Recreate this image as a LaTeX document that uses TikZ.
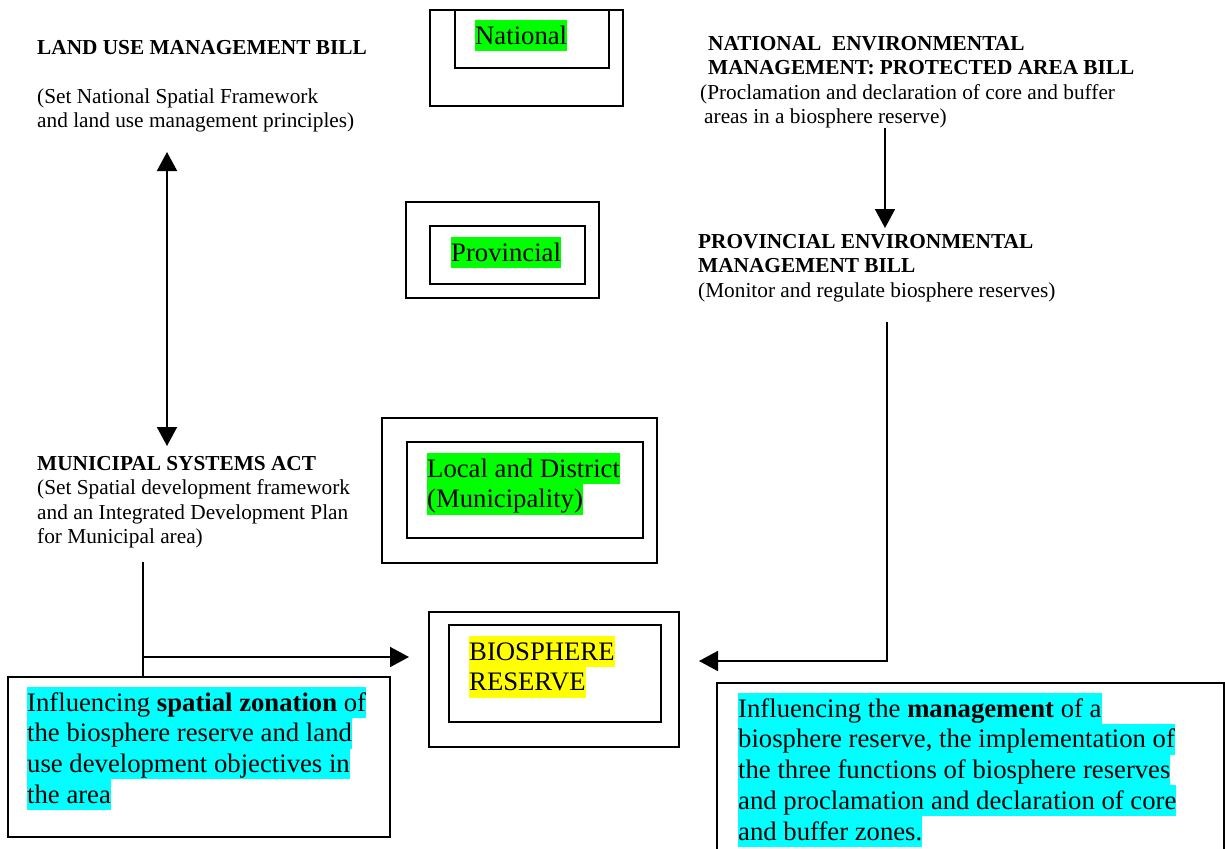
\documentclass[tikz,border=0pt]{standalone}
\usepackage{fontspec}
\setmainfont{Liberation Serif}
\usetikzlibrary{arrows.meta}
\definecolor{hlgreen}{RGB}{0,255,0}
\definecolor{hlyellow}{RGB}{255,255,0}
\definecolor{hlcyan}{RGB}{0,255,255}
\newcommand{\hlbox}[2]{{\setlength{\fboxsep}{0pt}\colorbox{#1}{\rule[-6.7pt]{0pt}{30.7pt}#2}}}
\newcommand{\sstr}{\rule[-5pt]{0pt}{24.5pt}}
\begin{document}
\begin{tikzpicture}[x=1pt,y=-1pt,
  box/.style={draw, line width=2pt, inner sep=0pt},
  small/.style={anchor=north west, inner sep=0pt, align=left, font=\fontsize{21.3}{24.5}\selectfont},
  big/.style={anchor=north west, inner sep=0pt, align=left, font=\fontsize{26.7}{30.7}\selectfont},
  conn/.style={line width=1.8pt},
  arr/.style={conn, -{Triangle[length=19pt,width=20pt]}},
  darr/.style={conn, {Triangle[length=19pt,width=20pt]}-{Triangle[length=19pt,width=20pt]}}]
\useasboundingbox (0,0) rectangle (1225,848);
\clip (0,0) rectangle (1225,848);
% boxes
\node[box, minimum width=193pt, minimum height=96pt] (natO) at (526.5,58) {};
\node[box, minimum width=154pt, minimum height=58pt] (natI) at (532,39) {};
\node[box, minimum width=193pt, minimum height=96pt] (provO) at (502.5,250) {};
\node[box, minimum width=155pt, minimum height=58pt] (provI) at (507.5,255) {};
\node[box, minimum width=275pt, minimum height=145pt] (locO) at (519.5,490.5) {};
\node[box, minimum width=236pt, minimum height=96pt] (locI) at (525,490) {};
\node[box, minimum width=250pt, minimum height=135pt] (bioO) at (554,679.5) {};
\node[box, minimum width=212pt, minimum height=97pt] (bioI) at (555,673.5) {};
\node[box, minimum width=382pt, minimum height=160pt] (leftbox) at (199,757) {};
\node[box, minimum width=507pt, minimum height=200pt] (rightbox) at (970.5,783) {};
% highlighted labels
\node[big] (natL) at (475,20) {\hlbox{hlgreen}{National}};
\node[big] (provL) at (451,237) {\hlbox{hlgreen}{Provincial}};
\node[big] (locL) at (427,453) {\hlbox{hlgreen}{Local and District}\\\hlbox{hlgreen}{(Municipality)}};
\node[big] (bioL) at (469,636) {\hlbox{hlyellow}{BIOSPHERE}\\\hlbox{hlyellow}{RESERVE}};
\node[big] (leftL) at (27,687) {\hlbox{hlcyan}{Influencing \textbf{spatial zonation} of}\\
  \hlbox{hlcyan}{the biosphere reserve and land}\\
  \hlbox{hlcyan}{use development objectives in}\\
  \hlbox{hlcyan}{the area}};
\node[big] (rightL) at (738,693) {\hlbox{hlcyan}{Influencing the \textbf{management} of a}\\
  \hlbox{hlcyan}{biosphere reserve, the implementation of}\\
  \hlbox{hlcyan}{the three functions of biosphere reserves}\\
  \hlbox{hlcyan}{and proclamation and declaration of core}\\
  \hlbox{hlcyan}{and buffer zones.}};
% plain texts
\node[small] (landuse) at (37,34.5) {\sstr\textbf{LAND USE MANAGEMENT BILL}\\[24.5pt]
  (Set National Spatial Framework\\
  and land use management principles)};
\node[small] (natenv) at (700,30.5) {\sstr\hspace*{8pt}\textbf{NATIONAL\ \ ENVIRONMENTAL}\\
  \hspace*{8pt}\textbf{MANAGEMENT: PROTECTED AREA BILL}\\
  (Proclamation and declaration of core and buffer\\
  \hspace*{4pt}areas in a biosphere reserve)};
\node[small] (provenv) at (698,228.5) {\sstr\textbf{PROVINCIAL ENVIRONMENTAL}\\
  \textbf{MANAGEMENT BILL}\\
  (Monitor and regulate biosphere reserves)};
\node[small] (munic) at (37,450.5) {\sstr\textbf{MUNICIPAL SYSTEMS ACT}\\
  (Set Spatial development framework\\
  and an Integrated Development Plan\\
  for Municipal area)};
% connector end points
\coordinate (d1) at (167,152);
\coordinate (d2) at (167,446);
\coordinate (n1) at (885,128);
\coordinate (n2) at (885,228);
\coordinate (r1) at (887,322);
\coordinate (m1) at (143,562);
\coordinate (m2) at (143,657);
% connectors
\draw[darr] (d1) -- (d2);
\draw[arr] (n1) -- (n2);
\draw[arr] (r1) |- ([xshift=19pt]bioO.east |- 0,661);
\draw[conn] (m1) -- (m1 |- leftbox.north);
\draw[arr] (m2) -- ([xshift=-19pt]bioO.west |- m2);
\end{tikzpicture}
\end{document}
